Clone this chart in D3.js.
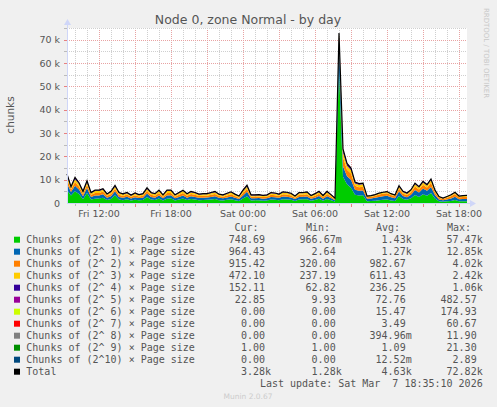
<!DOCTYPE html>
<html>
<head>
<meta charset="utf-8">
<script src="https://cdn.jsdelivr.net/npm/d3@7"></script>
<style>
body { margin: 0; background: #f0f0f0; }
text { font-family: "DejaVu Sans", sans-serif; }
.mono { font-family: "DejaVu Sans Mono", monospace; font-size: 10px; fill: #555; }
</style>
</head>
<body>
<svg id="chart" width="497" height="407"></svg>
<script>
// values in thousands of chunks, one sample every 20 minutes from Fri 09:20
const order0 = [5.6,3.2,5.0,3.9,1.6,4.3,1.5,1.8,1.9,2.2, 1.3,1.7,3.3,1.5,1.2,1.6,1.1,1.4,1.2,1.3, 2.6,1.5,1.3,1.9,1.1,1.8,2.0,1.1,1.5,1.9, 1.3,1.7,1.5,1.2,1.3,1.4,1.5,1.7,1.2,1.1, 1.4,1.6,1.2,0.9,1.9,2.9,1.1,1.2,1.2,1.0, 1.1,1.5,1.4,1.2,1.6,1.5,1.4,0.9,1.5,1.6, 1.6,1.0,1.3,1.8,1.0,1.7,1.2,0.6,57.4,11.2, 8.0,6.5,3.5,3.2,3.3,0.8,0.85,1.0,1.2,1.4, 1.5,1.1,0.9,3.0,1.7,1.4,2.0,3.4,2.6,3.8, 3.1,4.3,1.9,0.7,0.5,0.7,0.9,1.3,0.7,0.75, 0.75];
const order1 = [2.8,1.5,2.4,1.9,1.3,2.1,1.1,1.4,1.3,1.5, 1.0,1.2,1.7,1.1,1.0,1.1,0.85,1.1,0.9,1.0, 1.5,1.1,1.0,1.3,0.9,1.4,1.3,0.9,1.1,1.3, 1.0,1.2,1.1,1.0,1.0,0.95,1.1,1.2,1.0,0.9, 1.0,1.2,1.0,0.8,1.3,1.9,0.9,0.85,0.9,0.85, 0.9,1.1,1.1,1.0,1.2,1.2,1.0,0.8,1.1,1.1, 1.2,0.8,1.0,1.2,0.8,1.2,0.9,0.55,12.8,4.5, 3.5,3.5,2.2,2.0,2.1,1.0,1.1,1.2,1.4,1.5, 1.6,1.35,1.15,1.9,1.3,1.1,1.5,2.2,1.9,2.4, 2.1,2.6,1.5,0.85,0.65,0.85,1.05,1.35,0.9,0.95, 0.96];
const order2 = [1.9,1.1,1.6,1.3,1.0,1.4,0.9,1.1,1.1,1.2, 0.8,1.0,1.1,0.9,0.8,0.9,0.7,0.85,0.7,0.8, 1.1,0.9,0.8,1.1,0.7,1.1,1.0,0.7,0.9,1.1, 0.8,1.0,0.9,0.75,0.8,0.8,0.9,1.0,0.75,0.7, 0.85,0.95,0.75,0.6,1.1,1.3,0.7,0.7,0.7,0.68, 0.7,0.9,0.85,0.75,0.95,0.9,0.85,0.6,0.9,0.85, 0.95,0.65,0.8,0.95,0.65,1.0,0.7,0.45,1.6,3.9, 2.8,2.6,1.7,1.6,1.6,0.7,0.75,0.85,1.0,1.05, 1.1,0.95,0.8,1.3,1.0,0.9,1.1,1.5,1.3,1.6, 1.4,1.8,1.1,0.75,0.55,0.75,0.95,1.2,0.85,0.9, 0.92];
const order3 = [1.4,0.8,1.2,1.0,0.7,1.0,0.65,0.8,0.8,0.8, 0.5,0.7,0.85,0.65,0.6,0.6,0.5,0.6,0.5,0.6, 0.8,0.65,0.6,0.8,0.5,0.8,0.8,0.5,0.65,0.8, 0.6,0.7,0.65,0.55,0.6,0.55,0.65,0.7,0.55,0.5, 0.6,0.7,0.55,0.45,0.8,0.9,0.5,0.45,0.5,0.5, 0.5,0.65,0.6,0.55,0.7,0.65,0.6,0.45,0.65,0.6, 0.7,0.5,0.6,0.7,0.5,0.7,0.5,0.32,0.7,2.2, 1.7,1.5,1.0,1.0,1.0,0.35,0.35,0.4,0.45,0.5, 0.55,0.45,0.4,0.8,0.65,0.6,0.75,0.95,0.85,1.0, 0.9,1.1,0.7,0.35,0.28,0.35,0.45,0.55,0.4,0.43, 0.47];
const order4 = [0.6,0.3,0.6,0.4,0.3,0.5,0.27,0.3,0.3,0.3, 0.22,0.3,0.4,0.27,0.22,0.22,0.18,0.26,0.22,0.22, 0.35,0.27,0.22,0.3,0.22,0.3,0.3,0.22,0.27,0.3, 0.22,0.3,0.27,0.22,0.22,0.22,0.27,0.3,0.22,0.22, 0.26,0.27,0.22,0.18,0.3,0.45,0.22,0.22,0.22,0.2, 0.22,0.27,0.26,0.22,0.27,0.27,0.26,0.18,0.27,0.27, 0.27,0.18,0.22,0.27,0.18,0.3,0.22,0.13,0.2,1.0, 0.7,0.6,0.4,0.35,0.35,0.1,0.12,0.12,0.12,0.12, 0.12,0.12,0.12,0.3,0.25,0.22,0.25,0.35,0.25,0.35, 0.3,0.35,0.25,0.12,0.1,0.12,0.13,0.17,0.13,0.15, 0.15];
const order5 = [0.2,0.1,0.2,0.2,0.1,0.2,0.08,0.1,0.1,0.1, 0.08,0.1,0.15,0.08,0.08,0.08,0.07,0.09,0.08,0.08, 0.15,0.08,0.08,0.1,0.08,0.1,0.1,0.08,0.08,0.1, 0.08,0.1,0.08,0.08,0.08,0.08,0.08,0.1,0.08,0.08, 0.09,0.08,0.08,0.07,0.1,0.15,0.08,0.08,0.08,0.07, 0.08,0.08,0.09,0.08,0.08,0.08,0.09,0.07,0.08,0.08, 0.08,0.07,0.08,0.08,0.07,0.1,0.08,0.05,0.1,0.4, 0.3,0.3,0.2,0.15,0.15,0.05,0.03,0.03,0.03,0.03, 0.03,0.03,0.03,0.1,0.1,0.08,0.1,0.1,0.1,0.15, 0.1,0.15,0.05,0.03,0.02,0.03,0.02,0.03,0.02,0.02, 0.03];

const legendNames = ["Chunks of (2^ 0) × Page size","Chunks of (2^ 1) × Page size","Chunks of (2^ 2) × Page size","Chunks of (2^ 3) × Page size","Chunks of (2^ 4) × Page size","Chunks of (2^ 5) × Page size","Chunks of (2^ 6) × Page size","Chunks of (2^ 7) × Page size","Chunks of (2^ 8) × Page size","Chunks of (2^ 9) × Page size","Chunks of (2^10) × Page size","Total"];
const legendColors = ["#00cc00","#0066b3","#ff8000","#ffcc00","#330099","#990099","#ccff00","#ff0000","#808080","#008f00","#00487d","#000000"];
const curVals = ["748.69","964.43","915.42","472.10","152.11","22.85","0.00","0.00","0.00","1.00","0.00","3.28k"];
const minVals = ["966.67m","2.64","320.00","237.19","62.82","9.93","0.00","0.00","0.00","1.00","0.00","1.28k"];
const avgVals = ["1.43k","1.27k","982.67","611.43","236.25","72.76","15.47","3.49","394.96m","1.09","12.52m","4.63k"];
const maxVals = ["57.47k","12.85k","4.02k","2.42k","1.06k","482.57","174.93","60.67","11.90","21.30","2.89","72.82k"];
const yTicks = [0,10000,20000,30000,40000,50000,60000,70000];

const svg = d3.select("#chart");
const stepMin = 20;
const start = new Date(2026, 2, 6, 9, 20);
const end = new Date(start.getTime() + 400 * 5 * 60000);

let series = [order0, order1, order2, order3, order4, order5];
let keys = ["s0","s1","s2","s3","s4","s5"];
let rows = order0.map(function(v, i) {
    let r = { t: new Date(start.getTime() + i * stepMin * 60000) };
    series.forEach(function(s, k) { r[keys[k]] = s[i] * 1000; });
    return r;
});

let pLeft = 67, pRight = 467, pTop = 28, pBottom = 203;
let x = d3.scaleTime().domain([start, end]).range([pLeft, pRight]);
let y = d3.scaleLinear().domain([0, 75000]).range([pBottom, pTop]);

svg.append("rect").attr("x", pLeft).attr("y", pTop).attr("width", pRight - pLeft).attr("height", pBottom - pTop).style("fill", "#fff");

// grid
let hours = d3.timeHour.every(1).range(start, end);
let minorCol = "#cfcfcf", majorCol = "#e8a3a3";
svg.selectAll("line.vgrid").data(hours).enter().append("line")
    .attr("x1", d => Math.round(x(d)) + 0.5).attr("x2", d => Math.round(x(d)) + 0.5)
    .attr("y1", pTop).attr("y2", pBottom)
    .style("stroke", d => d.getHours() % 3 == 0 ? majorCol : minorCol)
    .style("stroke-dasharray", "1,1");
let hgrid = d3.range(5000, 75001, 5000);
svg.selectAll("line.hgrid").data(hgrid).enter().append("line")
    .attr("x1", pLeft).attr("x2", pRight)
    .attr("y1", d => Math.round(y(d)) + 0.5).attr("y2", d => Math.round(y(d)) + 0.5)
    .style("stroke", d => d % 10000 == 0 ? majorCol : minorCol)
    .style("stroke-dasharray", "1,1");

// stacked areas
let stack = d3.stack().keys(keys);
let layers = stack(rows);
let area = d3.area().x(d => x(d.data.t)).y0(d => y(d[0])).y1(d => y(d[1]));
svg.selectAll("path.layer").data(layers).enter().append("path")
    .attr("d", area)
    .style("fill", (d, i) => legendColors[i]);

let totalLine = d3.line().x(d => x(d.t)).y(d => y(keys.reduce((a, k) => a + d[k], 0)));
svg.append("path").datum(rows).attr("d", totalLine)
    .style("fill", "none").style("stroke", "#000").style("stroke-width", 1.2);

// axes
let axisCol = "#cfd6f8";
svg.append("line").attr("x1", pLeft + 0.5).attr("x2", pLeft + 0.5).attr("y1", pBottom).attr("y2", 24).style("stroke", axisCol);
svg.append("line").attr("x1", pLeft).attr("x2", 472).attr("y1", pBottom + 0.5).attr("y2", pBottom + 0.5).style("stroke", axisCol);
svg.append("path").attr("d", "M64,25 L67.5,19 L71,25 Z").style("fill", axisCol);
svg.append("path").attr("d", "M470,200 L476,203.5 L470,207 Z").style("fill", axisCol);

svg.selectAll("line.xtick").data(hours).enter().append("line")
    .attr("x1", d => Math.round(x(d)) + 0.5).attr("x2", d => Math.round(x(d)) + 0.5)
    .attr("y1", pBottom + 1).attr("y2", d => d.getHours() % 3 == 0 ? pBottom + 4 : pBottom + 3)
    .style("stroke", d => d.getHours() % 3 == 0 ? "#e88080" : "#bbb");
svg.selectAll("line.ytick").data(hgrid).enter().append("line")
    .attr("x1", 64).attr("x2", pLeft)
    .attr("y1", d => Math.round(y(d)) + 0.5).attr("y2", d => Math.round(y(d)) + 0.5)
    .style("stroke", d => d % 10000 == 0 ? "#e88080" : "#bbb");

let fmtDay = d3.timeFormat("%a %H:%M");
svg.selectAll("text.xlab").data(hours.filter(d => d.getHours() % 6 == 0)).enter().append("text")
    .attr("x", d => x(d)).attr("y", 216.5)
    .attr("text-anchor", "middle").style("font-size", "9.5px").style("fill", "#555")
    .text(d => fmtDay(d));
svg.selectAll("text.ylab").data(yTicks).enter().append("text")
    .attr("x", 60).attr("y", d => y(d) + 3.5)
    .attr("text-anchor", "end").style("font-size", "9.5px").style("fill", "#555")
    .text(d => d == 0 ? "0" : (d / 1000) + " k");

svg.append("text").attr("x", 248).attr("y", 23.5).attr("text-anchor", "middle")
    .style("font-size", "12.5px").style("fill", "#555").text("Node 0, zone Normal - by day");
svg.append("text").attr("transform", "translate(14,115) rotate(-90)").attr("text-anchor", "middle")
    .style("font-size", "10.5px").style("fill", "#555").text("chunks");
svg.append("text").attr("transform", "translate(484,53) rotate(90)").attr("text-anchor", "middle")
    .style("font-size", "7px").style("fill", "#c8c8c8").text("RRDTOOL / TOBI OETIKER");

// legend
let cw = 6.02;
let headers = [["Cur:", 234.5], ["Min:", 306], ["Avg:", 376], ["Max:", 447]];
headers.forEach(function(h) {
    svg.append("text").attr("class", "mono").attr("x", h[1]).attr("y", 231).text(h[0]);
});
let colRight = [271, 341.7, 411.7, 482.7];
let cols = [curVals, minVals, avgVals, maxVals];
legendNames.forEach(function(name, i) {
    let cy = 239.7 + i * 12;
    svg.append("rect").attr("x", 14).attr("y", cy - 3).attr("width", 6).attr("height", 6).style("fill", legendColors[i]);
    svg.append("text").attr("class", "mono").attr("x", 26.3).attr("y", cy + 3.5).text(name);
    cols.forEach(function(col, c) {
        let v = col[i];
        let unit = /[km]$/.test(v) ? v.slice(-1) : "";
        let num = unit ? v.slice(0, -1) : v;
        svg.append("text").attr("class", "mono").attr("x", colRight[c] - cw).attr("y", cy + 3.5)
            .attr("text-anchor", "end").text(num);
        if (unit) svg.append("text").attr("class", "mono").attr("x", colRight[c] - cw).attr("y", cy + 3.5).text(unit);
    });
});
svg.append("text").attr("class", "mono").attr("x", 482.7).attr("y", 387).attr("text-anchor", "end")
    .style("white-space", "pre").text("Last update: Sat Mar  7 18:35:10 2026");
svg.append("text").attr("x", 248).attr("y", 399).attr("text-anchor", "middle")
    .style("font-size", "7.5px").style("fill", "#cccccc").text("Munin 2.0.67");
</script>
</body>
</html>
